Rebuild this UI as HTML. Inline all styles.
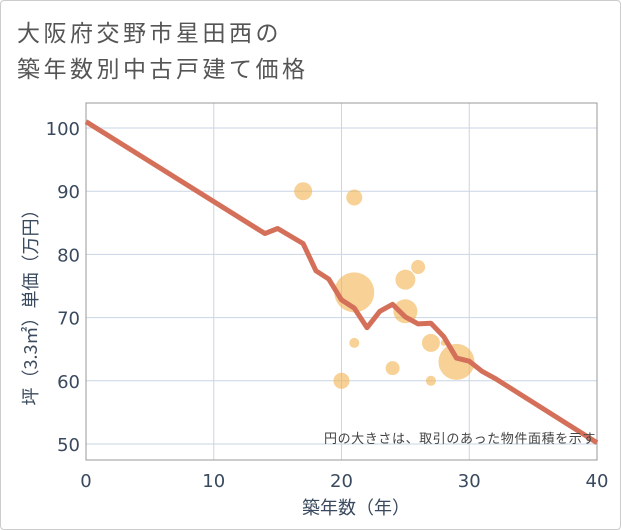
<!DOCTYPE html>
<html><head><meta charset="utf-8"><style>
body{margin:0;background:#fff;}
#wrap{position:relative;width:621px;height:530px;overflow:hidden;font-family:"DejaVu Sans","Noto Sans CJK JP",sans-serif;}
#frame{position:absolute;left:0;top:0;width:619px;height:528px;border:1px solid #ccc;border-radius:4px;}
.title{position:absolute;left:17px;font-size:23px;color:#555;letter-spacing:3.5px;font-family:"Noto Sans CJK JP",sans-serif;line-height:30px;}
</style></head><body>
<div id="wrap">
<div id="frame"></div>
<div class="title" style="top:16px">大阪府交野市星田西の</div>
<div class="title" style="top:52px">築年数別中古戸建て価格</div>
<svg id="chart" width="621" height="530" style="position:absolute;left:0;top:0"></svg>
</div>
<script>
const xTicks=[0,10,20,30,40];
const yTicks=[50,60,70,80,90,100];
const lineYears=[0,14,15,17,18,19,20,21,22,23,24,25,26,27,28,29,30,31,32,40];
const lineValues=[101,83.3,84.1,81.7,77.4,76.1,72.8,71.5,68.4,71,72.1,70.1,69,69.1,67,63.6,63.1,61.5,60.4,50.2];
const bubbleYears=[17,21,21,25,26,25,27,28,29,21,24,20,27];
const bubbleValues=[90,89,74,76,78,71,66,66,63,66,62,60,60];
const bubbleRadii=[9,8,20,10,7,12,9,3,18,5,7,8,5];
const L=86,R=597,T=103,B=460;
const xMin=0,xMax=40,yMin=50,yMax=100,y100=128,y50=444;
const sx=v=>L+(v-xMin)/(xMax-xMin)*(R-L);
const sy=v=>y50-(v-yMin)/(yMax-yMin)*(y50-y100);
const svg=document.getElementById('chart');const NS='http://www.w3.org/2000/svg';
function mk(t,a,p){const e=document.createElementNS(NS,t);for(const k in a)e.setAttribute(k,a[k]);(p||svg).appendChild(e);return e;}
const bg=mk('rect',{x:L,y:T,width:R-L,height:B-T,fill:'#fff',stroke:'#999','stroke-width':1});


xTicks.forEach(t=>{const l=mk('line',{x1:sx(t),x2:sx(t),y1:T,y2:B,stroke:'#c9d6e6','stroke-width':1});


const tx=mk('text',{x:sx(t),y:B+27,'text-anchor':'middle','font-size':18,fill:'#3a4a5e'});tx.textContent=t;

});
yTicks.forEach(t=>{const l=mk('line',{x1:L,x2:R,y1:sy(t),y2:sy(t),stroke:'#c9d6e6','stroke-width':1});


const tx=mk('text',{x:L-6,y:sy(t)+7,'text-anchor':'end','font-size':18,fill:'#3a4a5e'});tx.textContent=t;

});
const fr=mk('rect',{x:L,y:T,width:R-L,height:B-T,fill:'none',stroke:'#999','stroke-width':1});


bubbleYears.forEach((yr,i)=>{const c=mk('circle',{cx:sx(yr),cy:sy(bubbleValues[i]),r:bubbleRadii[i],fill:'#f2b24f','fill-opacity':0.6});

});
const pl=mk('polyline',{points:lineYears.map((y,i)=>sx(y)+','+sy(lineValues[i])).join(' '),fill:'none',stroke:'#d4705a','stroke-width':5,'stroke-linejoin':'round'});


const note=mk('text',{x:R-1,y:B-17,'text-anchor':'end','font-size':13,fill:'#444','font-family':'Noto Sans CJK JP,sans-serif','letter-spacing':0.6});note.textContent='円の大きさは、取引のあった物件面積を示す';


const xt=mk('text',{x:356,y:B+54,'text-anchor':'middle','font-size':18,fill:'#3a4a5e','font-family':'Noto Sans CJK JP,sans-serif'});xt.textContent='築年数（年）';


const yt=mk('text',{x:0,y:0,'text-anchor':'middle','font-size':18,fill:'#3a4a5e','font-family':'Noto Sans CJK JP,sans-serif',transform:`translate(37,303) rotate(-90)`});yt.textContent='坪（3.3㎡）単価（万円）';


</script>
</body></html>
